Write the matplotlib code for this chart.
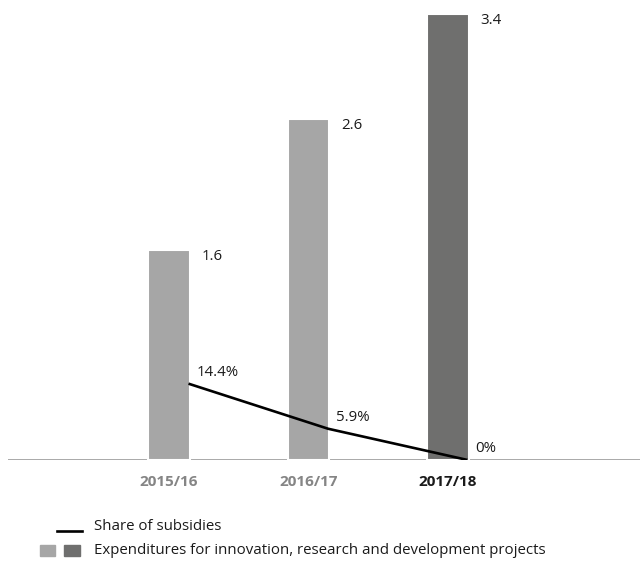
import matplotlib.pyplot as plt
from matplotlib.lines import Line2D
from matplotlib.patches import Rectangle

plt.rcParams['font.family'] = ['Open Sans', 'DejaVu Sans']

# data
years = ['2015/16', '2016/17', '2017/18']
expenditures = [1.6, 2.6, 3.4]
subsidy_share = [14.4, 5.9, 0.0]
bar_colors = ['#a6a6a6', '#a6a6a6', '#6f6f6e']
tick_colors = ['#858585', '#858585', '#1a1a1a']

W, H = 640, 563
fig = plt.figure(figsize=(W / 100, H / 100), dpi=100)
ax = fig.add_axes([8 / W, (H - 460) / H, (W - 8) / W, 460 / H])

x = list(range(len(years)))
bar_w = 0.30
ax.axhline(0, color='#a3a3a3', lw=1.3, zorder=1)
ax.bar(x, expenditures, width=bar_w, color=bar_colors,
       edgecolor='white', linewidth=1.5, zorder=2)
for xi, v in zip(x, expenditures):
    ax.annotate(f'{v:.1f}', (xi + bar_w / 2, v), xytext=(8.5, -5),
                textcoords='offset points', ha='left', va='center',
                fontsize=10.8, color='#1a1a1a')

ax.set_xlim(-1.154, 3.376)
ax.set_ylim(0, 3.505)
ax.axis('off')

# share of subsidies on a second scale
ax2 = ax.twinx()
ax2.set_ylim(0, 460 / 5.3)
ax2.axis('off')
line_x = [xi + bar_w / 2 - 0.01 for xi in x]
ax2.plot(line_x, subsidy_share, color='black', lw=1.9, zorder=3,
         solid_capstyle='butt')
for xi, v in zip(line_x, subsidy_share):
    lab = f'{v:g}%'
    ax2.annotate(lab, (xi, v), xytext=(5.5, 8), textcoords='offset points',
                 ha='left', va='center', fontsize=10.8, color='#1a1a1a')

# category labels
for xi, lab, c in zip(x, years, tick_colors):
    ax.text(xi, -0.17, lab, ha='center', va='center', fontsize=11,
            fontweight='bold', color=c)

# legend
fig.add_artist(Line2D([57 / W, 82 / W], [1 - 531 / H, 1 - 531 / H],
                      color='black', lw=1.9, transform=fig.transFigure))
fig.text(94 / W, 1 - 527 / H, 'Share of subsidies', ha='left', va='center',
         fontsize=10.8, color='#1a1a1a')
fig.add_artist(Rectangle((40 / W, 1 - 556 / H), 15 / W, 11 / H,
                         color='#a6a6a6', transform=fig.transFigure))
fig.add_artist(Rectangle((64 / W, 1 - 556 / H), 16 / W, 11 / H,
                         color='#6f6f6e', transform=fig.transFigure))
fig.text(94 / W, 1 - 550 / H,
         'Expenditures for innovation, research and development projects',
         ha='left', va='center', fontsize=10.8, color='#1a1a1a')

plt.savefig('out.png', dpi=100)
plt.close()
